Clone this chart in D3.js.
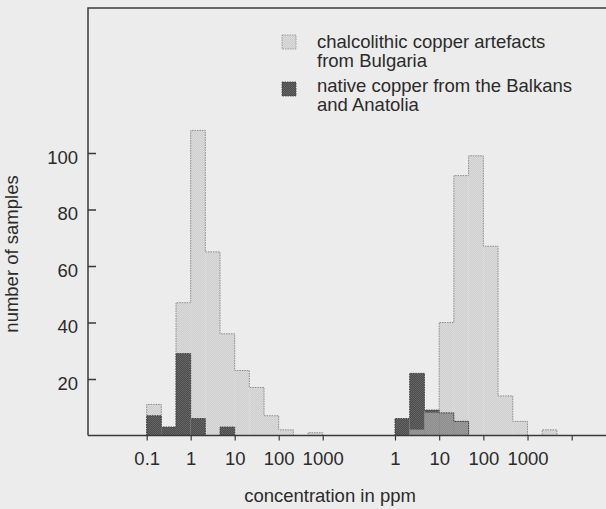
<!DOCTYPE html>
<html>
<head>
<meta charset="utf-8">
<script src="https://cdn.jsdelivr.net/npm/d3@7"></script>
<style>
  html, body { margin: 0; padding: 0; background: #ececec; }
  svg { display: block; }
  text { font-family: "Liberation Sans", Arial, Helvetica, sans-serif; fill: #2b2b2b; }
</style>
</head>
<body>
<svg id="chart" width="606" height="509"></svg>
<script>
// Histogram bins: one-third-decade classes (bin edges, ppm)
const leftEdges  = [0.1, 0.215, 0.464, 1, 2.15, 4.64, 10, 21.5, 46.4, 100, 215, 464, 1000];
const rightEdges = [1, 2.15, 4.64, 10, 21.5, 46.4, 100, 215, 464, 1000, 2150, 4640];

// Counts per bin
const leftChalco  = [11, 0, 47, 108, 65, 36, 23, 17, 7, 2, 0, 1];
const leftNative  = [7, 3, 29, 6, 0, 3, 0, 0, 0, 0, 0, 0];
const rightChalco = [0, 2, 8, 40, 92, 99, 67, 14, 5, 0, 2];
const rightNative = [6, 22, 9, 8, 5, 0, 0, 0, 0, 0, 0];

// Axis ticks and labels
const yTicks = [20, 40, 60, 80, 100];
const leftTicks = [0.1, 1, 10, 100, 1000];
const leftTickLabels = ["0.1", "1", "10", "100", "1000"];
const rightTicks = [1, 10, 100, 1000, 10000];
const rightTickLabels = ["1", "10", "100", "1000", ""];

const seriesNames = ["chalcolithic copper artefacts\nfrom Bulgaria",
                     "native copper from the Balkans\nand Anatolia"];
const yTitle = "number of samples";
const xTitle = "concentration in ppm";

const FONT = 18.5;

const svg = d3.select("#chart");
const defs = svg.append("defs");

// halftone-like screens for the fills
function screen(id, a, b) {
  const p = defs.append("pattern").attr("id", id)
    .attr("width", 2).attr("height", 2).attr("patternUnits", "userSpaceOnUse");
  p.append("rect").attr("width", 2).attr("height", 2).attr("fill", a);
  p.append("rect").attr("width", 1).attr("height", 1).attr("fill", b);
  p.append("rect").attr("x", 1).attr("y", 1).attr("width", 1).attr("height", 1).attr("fill", b);
}
screen("lightFill", "#cdcdcd", "#dcdcdc");
screen("darkFill", "#4d4d4d", "#646464");
screen("midFill", "#8c8c8c", "#9c9c9c");

const frameLeft = 88, frameTop = 8, frameRight = 612;
const y = d3.scaleLinear().domain([0, 100]).range([435.5, 153]);
const xl = d3.scaleLog().domain([0.1, 1000]).range([146.7, 322.7]);
const xr = d3.scaleLog().domain([1, 10000]).range([395, 571.7]);

function bins(edges, values) {
  return values.map((v, i) => ({ x0: edges[i], x1: edges[i + 1], v }));
}

function drawBars(g, xs, data, fill) {
  g.selectAll(null).data(data.filter(d => d.v > 0)).join("rect")
    .attr("x", d => xs(d.x0))
    .attr("width", d => xs(d.x1) - xs(d.x0))
    .attr("y", d => y(d.v))
    .attr("height", d => y(0) - y(d.v))
    .attr("fill", fill);
}

function outline(g, xs, data, stroke) {
  const pts = [[xs(data[0].x0), y(0)]];
  data.forEach(d => { pts.push([xs(d.x0), y(d.v)]); pts.push([xs(d.x1), y(d.v)]); });
  pts.push([xs(data[data.length - 1].x1), y(0)]);
  g.append("path").attr("d", d3.line()(pts))
    .attr("fill", "none").attr("stroke", stroke)
    .attr("stroke-width", 1).attr("stroke-dasharray", "1.5,1");
}

// Left panel: native copper drawn over the artefacts
const gl = svg.append("g");
const lc = bins(leftEdges, leftChalco), ln = bins(leftEdges, leftNative);
drawBars(gl, xl, lc, "url(#lightFill)");
outline(gl, xl, lc, "#8a8a8a");
drawBars(gl, xl, ln, "url(#darkFill)");
outline(gl, xl, ln, "#3a3a3a");

// Right panel: artefacts drawn over native copper, overlap shows as mid grey
const gr = svg.append("g");
const rc = bins(rightEdges, rightChalco), rn = bins(rightEdges, rightNative);
drawBars(gr, xr, rc, "url(#lightFill)");
drawBars(gr, xr, rn, "url(#darkFill)");
const overlap = rc.map((d, i) => ({ x0: d.x0, x1: d.x1, v: Math.min(d.v, rn[i].v) }));
drawBars(gr, xr, overlap, "url(#midFill)");
outline(gr, xr, rn, "#3a3a3a");
outline(gr, xr, rc, "#8a8a8a");

// Frame
svg.append("path")
  .attr("d", `M${frameLeft},${y(0)}V${frameTop}H${frameRight}`)
  .attr("fill", "none").attr("stroke", "#3a3a3a").attr("stroke-width", 1.5);
svg.append("line").attr("x1", frameLeft).attr("x2", frameRight)
  .attr("y1", y(0)).attr("y2", y(0))
  .attr("stroke", "#3a3a3a").attr("stroke-width", 1.5);

// Y axis (ticks point inward)
const yAxis = svg.append("g").attr("transform", `translate(${frameLeft},0)`)
  .call(d3.axisLeft(y).tickValues(yTicks).tickSize(-8).tickPadding(10));
yAxis.select(".domain").remove();
yAxis.selectAll(".tick line").attr("stroke", "#3a3a3a").attr("stroke-width", 1.5);
yAxis.selectAll(".tick text").attr("font-size", FONT).attr("dy", 10)
  .attr("font-family", null).attr("fill", "#2b2b2b");

// X axes (ticks point outward)
function xAxis(xs, ticks, labels) {
  const g = svg.append("g").attr("transform", `translate(0,${y(0)})`)
    .call(d3.axisBottom(xs).tickValues(ticks).tickSize(5).tickPadding(11)
      .tickFormat((d, i) => labels[i]));
  g.select(".domain").remove();
  g.selectAll(".tick line").attr("stroke", "#3a3a3a").attr("stroke-width", 1.2);
  g.selectAll(".tick text").attr("font-size", FONT).attr("font-family", null).attr("fill", "#2b2b2b");
}
xAxis(xl, leftTicks, leftTickLabels);
xAxis(xr, rightTicks, rightTickLabels);

// Axis titles
svg.append("text").attr("transform", "translate(18,254) rotate(-90)")
  .attr("text-anchor", "middle").attr("font-size", FONT).text(yTitle);
svg.append("text").attr("x", 330).attr("y", 502)
  .attr("text-anchor", "middle").attr("font-size", FONT).text(xTitle);

// Legend
const legend = svg.append("g");
const legendRows = [
  { fill: "url(#lightFill)", stroke: "#8a8a8a", top: 35, base: 48 },
  { fill: "url(#darkFill)", stroke: "#3a3a3a", top: 82, base: 92 }
];
legendRows.forEach((r, i) => {
  legend.append("rect").attr("x", 282).attr("y", r.top).attr("width", 14).attr("height", 14)
    .attr("fill", r.fill).attr("stroke", r.stroke).attr("stroke-width", 0.8)
    .attr("stroke-dasharray", "1.5,1");
  const t = legend.append("text").attr("x", 317).attr("y", r.base).attr("font-size", FONT);
  seriesNames[i].split("\n").forEach((line, j) => {
    t.append("tspan").attr("x", 317).attr("dy", j === 0 ? 0 : 19).text(line);
  });
});
</script>
</body>
</html>
